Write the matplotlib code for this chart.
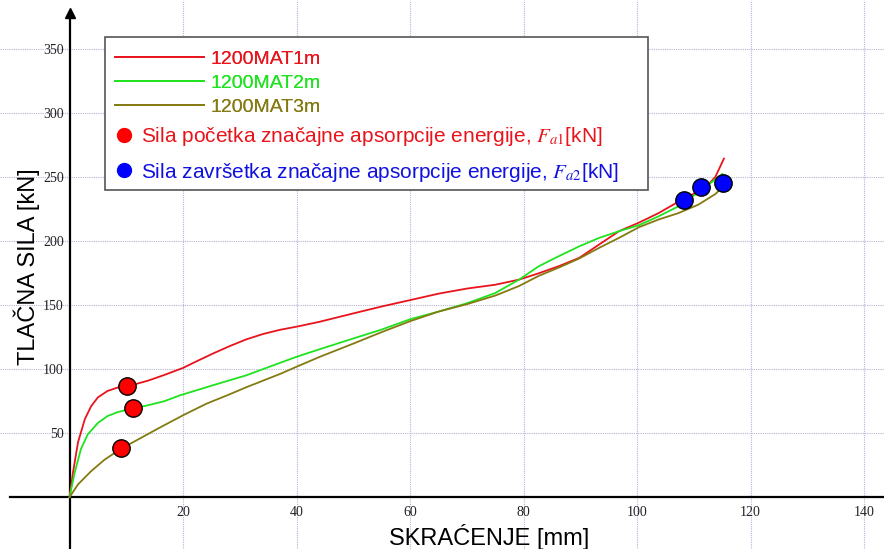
import matplotlib
matplotlib.use("Agg")
import matplotlib.pyplot as plt
from matplotlib.lines import Line2D
from matplotlib.patches import Rectangle

plt.rcParams['mathtext.fontset'] = 'stix'

# ---- data ----
x_mat1 = [0, 0.6, 1.5, 2.7, 3.8, 5.0, 6.7, 8.5, 10.1, 13.8, 16.7, 20, 22.3, 25.3, 28.3, 31.2, 34.1, 37.1,
          40.2, 44, 50, 55, 60, 65, 70, 75, 79.2, 82.7, 86.2, 89.8, 93.3, 96.8, 100.3, 103.8, 108.1, 112,
          113.8, 115.3]
y_mat1 = [0, 19, 43, 61, 71, 78, 83, 85.7, 86.5, 91, 95.5, 101, 106, 112.3, 118.2, 123.4, 127.5, 130.8,
          133.4, 137, 143.6, 149, 154, 159, 163, 166, 170, 175, 180.5, 187, 197.4, 207.8, 214.5, 222, 233, 241.4,
          250.4, 264.6]

x_mat2 = [0, 0.9, 2.0, 3.2, 5.0, 6.7, 8.5, 11.1, 13.8, 16.7, 19.4, 22, 25.3, 31.2, 37.1, 40.2, 44, 50, 55,
          60, 65, 70, 75, 79.2, 82.7, 86.2, 89.8, 93.3, 96.8, 100.3, 103.8, 107.3, 111.2, 115]
y_mat2 = [0, 19, 37.5, 49, 58, 63.4, 66.5, 69.3, 71.8, 75, 79.5, 83, 87.5, 95.3, 105, 110, 115.5, 124, 131,
          139, 145, 151.5, 159.5, 170, 180.5, 188.3, 196, 202.6, 207.8, 212.5, 219.5, 227.3, 239.5, 252.6]

x_mat3 = [0, 1.5, 3.8, 6.2, 9.1, 12.0, 15.5, 20, 24.1, 28, 31.2, 37.1, 40.2, 44, 50, 55, 60, 65, 70, 75,
          79.2, 82.7, 86.2, 89.8, 93.3, 96.8, 100.3, 103.8, 107.3, 110.8, 113.8, 114.5]
y_mat3 = [0, 10, 20.3, 29.4, 37.9, 44.9, 53.4, 64, 73, 80, 86, 96.3, 102.3, 109.5, 120, 129, 137.5, 145,
          150.8, 157.5, 165, 173, 179.4, 186.5, 194.8, 202.6, 210.9, 217, 222, 228.6, 236.9, 240]

fa1_x = [10.1, 11.1, 9.1]
fa1_y = [86.5, 69.3, 38.5]
fa2_x = [108.3, 111.2, 115.1]
fa2_y = [232, 242.5, 245.5]

series_labels = ["1200MAT1m", "1200MAT2m", "1200MAT3m"]
series_colors = ["#e8141c", "#1fe31f", "#857a12"]
xticks = [20, 40, 60, 80, 100, 120, 140]
yticks = [50, 100, 150, 200, 250, 300, 350]

# ---- figure ----
fig = plt.figure(figsize=(8.84, 5.49), dpi=100)
ax = fig.add_axes([0, 0, 1, 1])
ax.set_xlim(-12.25, 143.5)
ax.set_ylim(-40.5, 388.5)

for xs, ys, c in zip([x_mat1, x_mat2, x_mat3], [y_mat1, y_mat2, y_mat3], series_colors):
    ax.plot(xs, ys, color=c, lw=1.3, zorder=3, solid_joinstyle='round')

ax.plot(fa1_x, fa1_y, 'o', ms=12.5, mfc='#ff0000', mec='black', mew=1.0, zorder=4)
ax.plot(fa2_x, fa2_y, 'o', ms=12.5, mfc='#0000ff', mec='black', mew=1.0, zorder=4)

# axes through origin
for s in ['top', 'right']:
    ax.spines[s].set_visible(False)
ax.spines['left'].set_position(('data', 0))
ax.spines['bottom'].set_position(('data', 0))
ax.spines['left'].set_bounds(-40.5, 376)
ax.spines['bottom'].set_bounds(-10.5, 143.5)
ax.spines['left'].set_linewidth(1.6)
ax.spines['bottom'].set_linewidth(1.6)
ax.plot([0], [378], marker='^', color='black', ms=7, clip_on=False, zorder=5)

ax.set_xticks(xticks)
ax.set_yticks(yticks)
ax.tick_params(length=0, labelsize=10, colors='#222222')
ax.tick_params(axis='x', pad=6)
ax.tick_params(axis='y', pad=4)
for lab in ax.get_xticklabels() + ax.get_yticklabels():
    lab.set_family('Liberation Serif')
ax.grid(True, ls=(0, (1, 1)), color='#b4b4dc', lw=0.8, zorder=0)

fig.text(0.553, 0.022, "SKRAĆENJE [mm]", ha='center', va='center', fontsize=17,
         family='Liberation Sans')
fig.text(0.030, 0.515, "TLAČNA SILA [kN]", ha='center', va='center', rotation=90, fontsize=17,
         family='Liberation Sans')

# legend
line_handles = [Line2D([], [], color=c, lw=1.3) for c in series_colors]
leg1 = fig.legend(line_handles, series_labels, loc='upper left', bbox_to_anchor=(0.130, 0.908),
                  frameon=False, handlelength=4.6, handletextpad=0.3, labelspacing=0.32,
                  prop={'family': 'Liberation Sans', 'size': 14}, labelcolor=series_colors,
                  borderaxespad=0, borderpad=0)
dot_handles = [Line2D([], [], ls='none', marker='o', ms=10, color='#ff0000'),
               Line2D([], [], ls='none', marker='o', ms=10, color='#0000ff')]
dot_labels = ["Sila početka značajne apsorpcije energije, $F_{a1}$[kN]",
              "Sila završetka značajne apsorpcije energije, $F_{a2}$[kN]"]
leg2 = fig.legend(dot_handles, dot_labels, loc='upper left', bbox_to_anchor=(0.131, 0.772),
                  frameon=False, handlelength=0.8, handletextpad=0.4, labelspacing=0.6,
                  prop={'family': 'Liberation Sans', 'size': 15},
                  labelcolor=['#e8141c', '#1010e0'], borderaxespad=0, borderpad=0)
fig.add_artist(leg1)
fig.add_artist(Rectangle((105 / 884, 1 - 190 / 549), (648 - 105) / 884, (190 - 37) / 549,
                         transform=fig.transFigure, fill=True, facecolor='white',
                         edgecolor='#555555', lw=1.2, zorder=2))
leg1.set_zorder(6)
leg2.set_zorder(6)

fig.savefig("out.png", dpi=100)
